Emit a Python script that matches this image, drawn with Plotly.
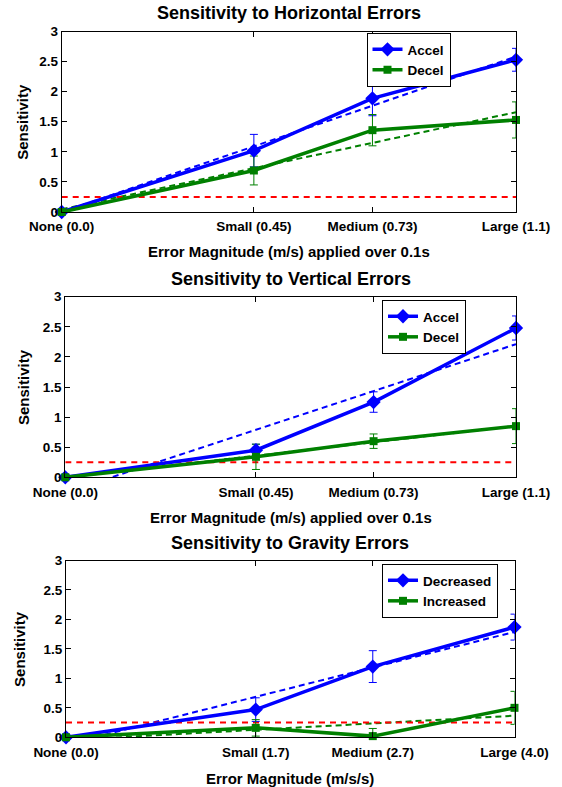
import numpy as np
import plotly.graph_objects as go

# ---------------- data ----------------
CATS_HORIZ = ["None (0.0)", "Small (0.45)", "Medium (0.73)", "Large (1.1)"]
CATS_VERT = ["None (0.0)", "Small (0.45)", "Medium (0.73)", "Large (1.1)"]
CATS_GRAV = ["None (0.0)", "Small (1.7)", "Medium (2.7)", "Large (4.0)"]
X_REL = [0.0, 0.423, 0.684, 1.0]          # relative error magnitude (axis position)

H_ACCEL = [0.0, 1.02, 1.89, 2.53]
H_ACCEL_ERR = [0.03, 0.27, 0.29, 0.19]
H_DECEL = [0.0, 0.69, 1.36, 1.53]
H_DECEL_ERR = [0.02, 0.24, 0.26, 0.30]

V_ACCEL = [0.0, 0.45, 1.25, 2.48]
V_ACCEL_ERR = [0.03, 0.10, 0.17, 0.20]
V_DECEL = [0.0, 0.34, 0.60, 0.85]
V_DECEL_ERR = [0.02, 0.21, 0.12, 0.29]

G_DECREASED = [0.0, 0.47, 1.20, 1.87]
G_DECREASED_ERR = [0.03, 0.20, 0.27, 0.22]
G_INCREASED = [0.0, 0.16, 0.02, 0.50]
G_INCREASED_ERR = [0.02, 0.14, 0.13, 0.28]

THRESHOLD = 0.25
Y_TICKS = [0, 0.5, 1, 1.5, 2, 2.5, 3]
Y_TICK_TEXT = ["0", "0.5", "1", "1.5", "2", "2.5", "3"]

TITLES = ["Sensitivity to Horizontal Errors", "Sensitivity to Vertical Errors",
          "Sensitivity to Gravity Errors"]
XTITLES = ["Error Magnitude (m/s) applied over 0.1s", "Error Magnitude (m/s) applied over 0.1s",
           "Error Magnitude (m/s/s)"]

# ---------------- style / layout ----------------
FONT = "Liberation Sans, Arial, Helvetica, sans-serif"
BLUE = "#0000ff"
GREEN = "#008000"
RED = "#ff0000"
W, H = 562, 787


def fx(px):
    return px / W


def fy(py):
    return 1 - py / H


panels = [
    dict(cats=CATS_HORIZ, s1=(H_ACCEL, H_ACCEL_ERR, "Accel"), s2=(H_DECEL, H_DECEL_ERR, "Decel"),
         xpx=(61.7, 516.0), ypx=(31.5, 212.0), legend=(450.5, 33.0), title_y=12.5, xtitle_y=252,
         ytitle_x=23),
    dict(cats=CATS_VERT, s1=(V_ACCEL, V_ACCEL_ERR, "Accel"), s2=(V_DECEL, V_DECEL_ERR, "Decel"),
         xpx=(65.3, 516.0), ypx=(296.7, 477.3), legend=(466.0, 300.0), title_y=279, xtitle_y=517,
         ytitle_x=23),
    dict(cats=CATS_GRAV, s1=(G_DECREASED, G_DECREASED_ERR, "Decreased"),
         s2=(G_INCREASED, G_INCREASED_ERR, "Increased"),
         xpx=(66.0, 514.5), ypx=(560.5, 737.3), legend=(498.0, 564.0), title_y=543, xtitle_y=778,
         ytitle_x=20),
]

fig = go.Figure()
annotations = []
layout_axes = {}

for i, p in enumerate(panels):
    n = "" if i == 0 else str(i + 1)
    xa, ya = "x" + n, "y" + n
    leg = "legend" + n
    x = np.array(X_REL)

    # fitted trend lines (least squares of each series)
    for (vals, err, name), col in ((p["s1"], BLUE), (p["s2"], GREEN)):
        coef = np.polyfit(x, np.array(vals), 1)
        fig.add_trace(go.Scatter(x=x, y=np.polyval(coef, x), mode="lines", xaxis=xa, yaxis=ya,
                                 line=dict(color=col, width=2, dash="6px,4px"),
                                 showlegend=False, hoverinfo="skip"))
    # threshold
    fig.add_trace(go.Scatter(x=[x[0], x[-1]], y=[THRESHOLD, THRESHOLD], mode="lines",
                             xaxis=xa, yaxis=ya, line=dict(color=RED, width=2, dash="6px,5px"),
                             showlegend=False, hoverinfo="skip"))
    # error bars (clipped to the axes)
    for (vals, err, name), col in ((p["s1"], BLUE), (p["s2"], GREEN)):
        fig.add_trace(go.Scatter(x=x, y=vals, mode="markers", xaxis=xa, yaxis=ya,
                                 marker=dict(size=0.1, color=col, opacity=0),
                                 error_y=dict(type="data", array=err, visible=True, color=col,
                                              thickness=1, width=4),
                                 showlegend=False, hoverinfo="skip", cliponaxis=True))
    # main series
    for (vals, err, name), col, sym, ms in ((p["s1"], BLUE, "diamond", 11),
                                             (p["s2"], GREEN, "square", 8)):
        fig.add_trace(go.Scatter(x=x, y=vals, mode="lines+markers", xaxis=xa, yaxis=ya,
                                 name=name, legend=leg,
                                 line=dict(color=col, width=3.5),
                                 marker=dict(symbol=sym, size=ms, color=col),
                                 cliponaxis=False))

    x0, x1 = p["xpx"]
    yt, yb = p["ypx"]
    common = dict(showline=True, linecolor="black", linewidth=1, mirror="ticks",
                  ticks="inside", ticklen=5, tickcolor="black", showgrid=False, zeroline=False,
                  automargin=False,
                  tickfont=dict(family=FONT, size=13.5, color="black", weight="bold"))
    layout_axes["xaxis" + n] = dict(domain=[fx(x0), fx(x1)], anchor=ya, range=[0, 1],
                                    tickvals=X_REL, ticktext=p["cats"], ticklabelstandoff=2,
                                    **common)
    layout_axes["yaxis" + n] = dict(domain=[fy(yb), fy(yt)], anchor=xa, range=[0, 3],
                                    tickvals=Y_TICKS, ticktext=Y_TICK_TEXT, **common)
    lx, ly = p["legend"]
    layout_axes[leg] = dict(x=fx(lx), y=fy(ly), xanchor="right", yanchor="top",
                            xref="paper", yref="paper",
                            bgcolor="white", bordercolor="black", borderwidth=1,
                            font=dict(family=FONT, size=13.5, color="black", weight="bold"),
                            itemwidth=30, tracegroupgap=0)
    cx = fx((x0 + x1) / 2)
    annotations.append(dict(text=TITLES[i], x=cx, y=fy(p["title_y"]), xref="paper",
                            yref="paper", showarrow=False, xanchor="center", yanchor="middle",
                            font=dict(family=FONT, size=18, color="black", weight="bold")))
    annotations.append(dict(text=XTITLES[i], x=cx, y=fy(p["xtitle_y"]), xref="paper",
                            yref="paper", showarrow=False, xanchor="center", yanchor="middle",
                            font=dict(family=FONT, size=15, color="black", weight="bold")))
    annotations.append(dict(text="Sensitivity", x=fx(p["ytitle_x"]), y=fy((yt + yb) / 2),
                            xref="paper", yref="paper", showarrow=False, textangle=-90,
                            xanchor="center", yanchor="middle",
                            font=dict(family=FONT, size=15, color="black", weight="bold")))

fig.update_layout(width=W, height=H,
                  margin=dict(l=0, r=0, t=0, b=0, pad=0, autoexpand=False),
                  paper_bgcolor="white", plot_bgcolor="white",
                  annotations=annotations, **layout_axes)

# remove the page's default body margin so the figure fills the window exactly
fig.write_html("out.html", config={"displayModeBar": False},
               post_script="document.body.style.margin='0';")
